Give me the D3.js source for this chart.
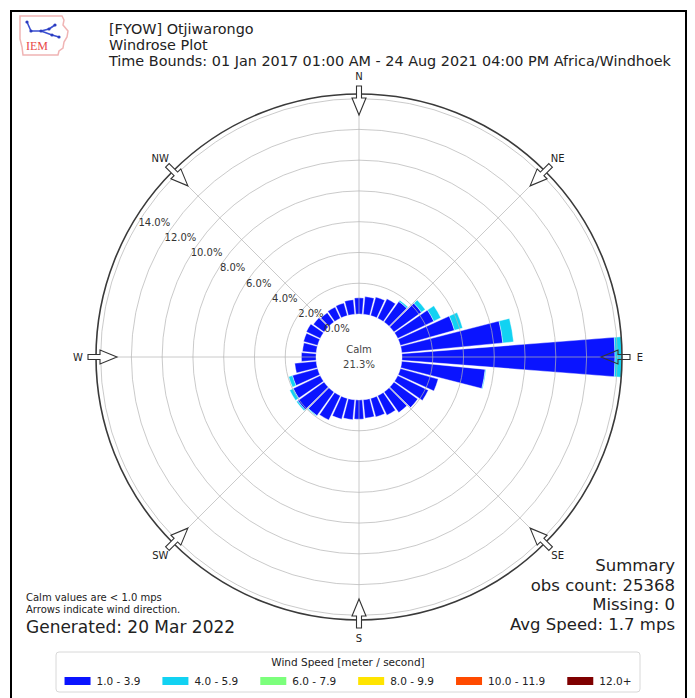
<!DOCTYPE html>
<html>
<head>
<meta charset="utf-8">
<script src="https://cdn.jsdelivr.net/npm/d3@7/dist/d3.min.js"></script>
<style>
  body { margin: 0; background: #fff; }
  svg { display: block; }
  text { font-family: "DejaVu Sans", sans-serif; }
</style>
</head>
<body>
<svg id="chart" width="695" height="698"></svg>
<script>
// ---- data -------------------------------------------------------------
const directions = [0, 10, 20, 30, 40, 50, 60, 70, 80, 90, 100, 110, 120, 130, 140, 150, 160, 170,
                    180, 190, 200, 210, 220, 230, 240, 250, 260, 270, 280, 290, 300, 310, 320, 330, 340, 350];

const speedBins = ["1.0 - 3.9", "4.0 - 5.9", "6.0 - 7.9", "8.0 - 9.9", "10.0 - 11.9", "12.0+"];
const binColors = ["#0a14ff", "#12d2f2", "#7cff7c", "#ffe400", "#ff4a00", "#7f0000"];

// frequency (% of all obs) per direction, one array per speed bin
const freq1to4 = [1.05, 1.15, 1.25, 1.40, 1.65, 2.20, 2.60, 3.65, 6.60, 13.85, 5.45, 2.55, 2.20, 1.90, 1.65, 1.40, 1.25, 1.20,
                  1.25, 1.30, 1.40, 1.75, 1.90, 2.10, 1.95, 1.70, 1.40, 0.95, 0.90, 0.95, 1.00, 0.85, 0.75, 0.80, 0.85, 0.95];
const freq4to6 = [0, 0, 0, 0, 0.10, 0.30, 0.50, 0.55, 0.70, 0.45, 0.05, 0, 0, 0, 0, 0, 0, 0,
                  0, 0, 0, 0, 0.05, 0.10, 0.25, 0.25, 0, 0, 0, 0, 0, 0, 0, 0, 0, 0];
const freq6to8 = directions.map(() => 0);
const freq8to10 = directions.map(() => 0);
const freq10to12 = directions.map(() => 0);
const freq12up = directions.map(() => 0);
const binSeries = [freq1to4, freq4to6, freq6to8, freq8to10, freq10to12, freq12up];

const radialTicks = [0, 2, 4, 6, 8, 10, 12, 14];
const compassNames = ["N", "NE", "E", "SE", "S", "SW", "W", "NW"];
const compassAngles = [0, 45, 90, 135, 180, 225, 270, 315];

const calmPct = "21.3%";
const headerLines = ["[FYOW] Otjiwarongo", "Windrose Plot",
  "Time Bounds: 01 Jan 2017 01:00 AM - 24 Aug 2021 04:00 PM Africa/Windhoek"];
const noteLines = ["Calm values are < 1.0 mps", "Arrows indicate wind direction."];
const generated = "Generated: 20 Mar 2022";
const summaryLines = ["Summary", "obs count: 25368", "Missing: 0", "Avg Speed: 1.7 mps"];
const legendTitle = "Wind Speed [meter / second]";

// ---- layout -----------------------------------------------------------
const svg = d3.select("#chart");
const cx = 359, cy = 357;
const calmR = 43, outerR = 263;

// stacked totals per direction
const stacks = directions.map((d, i) => {
  let acc = 0;
  return binSeries.map((s, b) => { const y0 = acc; acc += s[i]; return { dir: d, bin: b, y0, y1: acc }; });
});
const maxTotal = d3.max(stacks, s => s[s.length - 1].y1);

const r = d3.scaleLinear().domain([0, maxTotal]).range([calmR, outerR]);
const toRad = d => d * Math.PI / 180;
const polar = (deg, rad) => [cx + rad * Math.sin(toRad(deg)), cy - rad * Math.cos(toRad(deg))];

// frame
svg.append("rect").attr("x", 11).attr("y", 11).attr("width", 675).attr("height", 700)
  .attr("fill", "none").attr("stroke", "#000").attr("stroke-width", 2);

// ---- logo ---------------------------------------------------------------
const logo = svg.append("g").attr("transform", "translate(19,15)");
logo.append("path")
  .attr("d", "M1,1 L43,1 L45,5 L44,10 L49,16 L48,22 L45,27 L44,33 L40,36 L39,40 L4,40 L3,32 L1,24 Z")
  .attr("fill", "#fff").attr("stroke", "#f0b4b4").attr("stroke-width", 1.5);
logo.append("path").attr("d", "M8,7 L12,16 L22,16 L30,14 M22,16 L33,20 M30,14 L36,10 M33,20 L40,22")
  .attr("fill", "none").attr("stroke", "#3a4fd0").attr("stroke-width", 1.6);
[[8, 7], [12, 16], [22, 16], [30, 14], [33, 20], [36, 10], [40, 22]].forEach(p =>
  logo.append("circle").attr("cx", p[0]).attr("cy", p[1]).attr("r", 1.6).attr("fill", "#2a3bc0"));
logo.append("text").attr("x", 7).attr("y", 35).attr("font-size", 12)
  .style("font-family", "'Liberation Serif', serif").attr("fill", "#e84848").text("IEM");

// ---- header -------------------------------------------------------------
headerLines.forEach((t, i) =>
  svg.append("text").attr("x", 109).attr("y", 34 + i * 16).attr("font-size", 14.4).attr("fill", "#222").text(t));

// ---- bars ---------------------------------------------------------------
const arc = d3.arc();
const barG = svg.append("g").attr("transform", `translate(${cx},${cy})`);
stacks.forEach(stack => stack.forEach(seg => {
  if (seg.y1 - seg.y0 <= 0) return;
  barG.append("path")
    .attr("d", arc({
      innerRadius: r(seg.y0), outerRadius: r(seg.y1),
      startAngle: toRad(seg.dir - 5 + 0.6), endAngle: toRad(seg.dir + 5 - 0.6)
    }))
    .attr("fill", binColors[seg.bin]).attr("stroke", "#fff").attr("stroke-width", 0.4);
}));

// ---- grid ---------------------------------------------------------------
const grid = svg.append("g").attr("fill", "none").attr("stroke", "#b4b4b4").attr("stroke-opacity", 0.7).attr("stroke-width", 1);
radialTicks.filter(t => t > 0).forEach(t =>
  grid.append("circle").attr("cx", cx).attr("cy", cy).attr("r", r(t)));
compassAngles.forEach(a => {
  const p0 = polar(a, calmR), p1 = polar(a, outerR);
  grid.append("line").attr("x1", p0[0]).attr("y1", p0[1]).attr("x2", p1[0]).attr("y2", p1[1]);
});
svg.append("circle").attr("cx", cx).attr("cy", cy).attr("r", outerR)
  .attr("fill", "none").attr("stroke", "#3a3a3a").attr("stroke-width", 1.6);

// radial tick labels
radialTicks.forEach(t => {
  const p = polar(300, r(t) - 9.5 - 0.32 * t);
  svg.append("text").attr("x", p[0] + 7).attr("y", p[1] - 12)
    .attr("text-anchor", "middle").attr("dominant-baseline", "central")
    .attr("font-size", 10).attr("fill", "#333").text(t.toFixed(1) + "%");
});

// ---- direction arrows + labels -----------------------------------------
compassAngles.forEach((a, i) => {
  const u = [Math.sin(toRad(a)), -Math.cos(toRad(a))];
  const v = [Math.cos(toRad(a)), Math.sin(toRad(a))];
  const pt = (along, perp) => [cx + along * u[0] + perp * v[0], cy + along * u[1] + perp * v[1]];
  const pts = [pt(271, -2.5), pt(271, 2.5), pt(259, 2.5), pt(259, 7), pt(242, 0), pt(259, -7), pt(259, -2.5)];
  svg.append("path").attr("d", "M" + pts.map(p => p.join(",")).join("L") + "Z")
    .attr("fill", a === 90 ? "none" : "#fff").attr("stroke", "#333").attr("stroke-width", 1.1);
  const lp = polar(a, 281);
  svg.append("text").attr("x", lp[0]).attr("y", lp[1])
    .attr("text-anchor", "middle").attr("dominant-baseline", "central")
    .attr("font-size", 10).attr("fill", "#222").text(compassNames[i]);
});

// calm
svg.append("text").attr("x", cx).attr("y", 349).attr("text-anchor", "middle").attr("dominant-baseline", "central")
  .attr("font-size", 10).attr("fill", "#444").text("Calm");
svg.append("text").attr("x", cx).attr("y", 364).attr("text-anchor", "middle").attr("dominant-baseline", "central")
  .attr("font-size", 10).attr("fill", "#444").text(calmPct);

// ---- notes ----------------------------------------------------------------
noteLines.forEach((t, i) =>
  svg.append("text").attr("x", 26).attr("y", 601 + i * 12).attr("font-size", 10).attr("fill", "#222").text(t));
svg.append("text").attr("x", 26).attr("y", 633).attr("font-size", 17).attr("fill", "#222").text(generated);

summaryLines.forEach((t, i) =>
  svg.append("text").attr("x", 675).attr("y", 571 + i * 19.5).attr("text-anchor", "end")
    .attr("font-size", 16.5).attr("fill", "#222").text(t));

// ---- legend ---------------------------------------------------------------
const leg = svg.append("g");
leg.append("rect").attr("x", 56).attr("y", 652).attr("width", 584).attr("height", 40)
  .attr("rx", 3).attr("fill", "#fff").attr("stroke", "#d8d8d8");
leg.append("text").attr("x", 348).attr("y", 666).attr("text-anchor", "middle")
  .attr("font-size", 10.5).attr("fill", "#222").text(legendTitle);
const sw = 26, pad = 6, gap = 22;
const items = speedBins.map((lab, i) => {
  const g = leg.append("g");
  g.append("rect").attr("width", sw).attr("height", 8).attr("y", -4).attr("fill", binColors[i]);
  const t = g.append("text").attr("x", sw + pad).attr("dominant-baseline", "central")
    .attr("font-size", 10.5).attr("fill", "#222").text(lab);
  return { g, w: sw + pad + t.node().getComputedTextLength() };
});
const rowW = d3.sum(items, d => d.w) + gap * (items.length - 1);
let x0 = 348 - rowW / 2;
items.forEach(it => { it.g.attr("transform", `translate(${x0},681)`); x0 += it.w + gap; });
</script>
</body>
</html>
